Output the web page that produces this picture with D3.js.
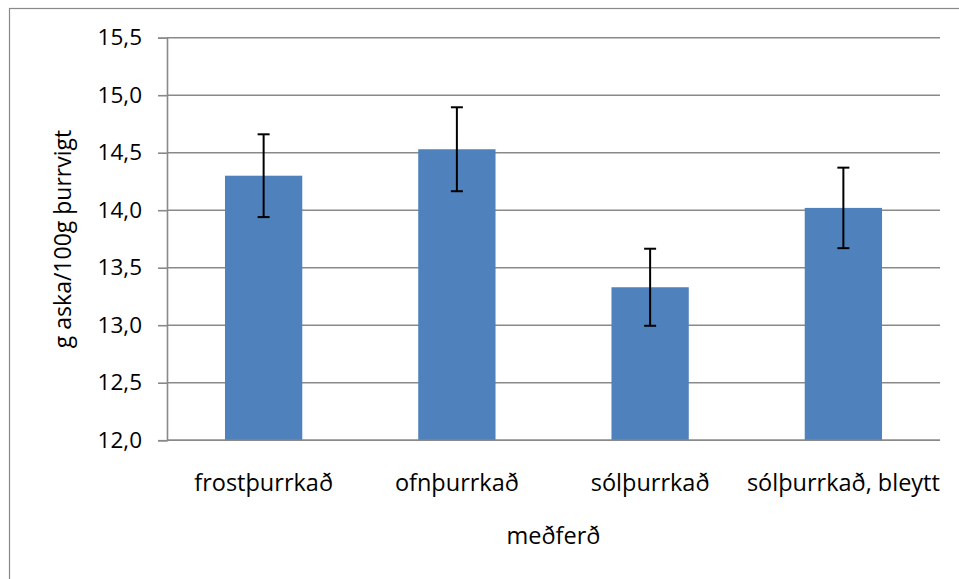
<!DOCTYPE html>
<html>
<head>
<meta charset="utf-8">
<script src="https://cdn.jsdelivr.net/npm/d3@7"></script>
<style>
  html, body { margin: 0; padding: 0; background: #fff; }
  svg { display: block; }
  text { font-family: "Open Sans", sans-serif; fill: #000; }
</style>
</head>
<body>
<svg id="chart" width="959" height="579"></svg>
<script>
const categories = ["frostþurrkað", "ofnþurrkað", "sólþurrkað", "sólþurrkað, bleytt"];
const values = [14.30, 14.53, 13.33, 14.02];
const errors = [0.36, 0.365, 0.335, 0.35];
const yTicks = [12.0, 12.5, 13.0, 13.5, 14.0, 14.5, 15.0, 15.5];
const yTitle = "g aska/100g þurrvigt";
const xTitle = "meðferð";

const svg = d3.select("#chart");
const plot = { left: 167, right: 940, top: 37.7, bottom: 440.2 };
const gray = "#898989";

// outer chart border
svg.append("rect")
  .attr("x", 9.5).attr("y", 8.5)
  .attr("width", 1000).attr("height", 1000)
  .attr("fill", "none").attr("stroke", gray).attr("stroke-width", 1.2);

const x = d3.scaleBand().domain(categories)
  .range([plot.left, plot.right]).paddingInner(0.6).paddingOuter(0.3);
const y = d3.scaleLinear().domain([12, 15.5]).range([plot.bottom, plot.top]);

// gridlines
svg.append("g").selectAll("line").data(yTicks).join("line")
  .attr("x1", plot.left).attr("x2", plot.right)
  .attr("y1", d => y(d)).attr("y2", d => y(d))
  .attr("stroke", gray).attr("stroke-width", 1.6);

// y axis
const yAxis = d3.axisLeft(y).tickValues(yTicks).tickSize(9).tickPadding(16)
  .tickFormat(d => d3.format(".1f")(d).replace(".", ","));
const ya = svg.append("g").attr("transform", `translate(${plot.left},0)`).call(yAxis);
ya.select(".domain").attr("stroke", gray).attr("stroke-width", 1.6);
ya.selectAll(".tick line").attr("stroke", gray).attr("stroke-width", 1.6);
ya.selectAll(".tick text").attr("font-size", 22.5).attr("font-family", "Open Sans").attr("fill", "#000");

// bars
svg.append("g").selectAll("rect").data(categories).join("rect")
  .attr("x", d => x(d)).attr("width", x.bandwidth())
  .attr("y", (d, i) => y(values[i]))
  .attr("height", (d, i) => y(12) - y(values[i]))
  .attr("fill", "#4F81BD");

// bottom axis line
svg.append("line")
  .attr("x1", plot.left).attr("x2", plot.right)
  .attr("y1", y(12)).attr("y2", y(12))
  .attr("stroke", gray).attr("stroke-width", 1.6);

// error bars
const eb = svg.append("g").attr("stroke", "#000").attr("stroke-width", 2);
categories.forEach((c, i) => {
  const cx = x(c) + x.bandwidth() / 2;
  const hi = y(values[i] + errors[i]), lo = y(values[i] - errors[i]);
  eb.append("line").attr("x1", cx).attr("x2", cx).attr("y1", hi).attr("y2", lo);
  eb.append("line").attr("x1", cx - 6).attr("x2", cx + 6).attr("y1", hi).attr("y2", hi);
  eb.append("line").attr("x1", cx - 6).attr("x2", cx + 6).attr("y1", lo).attr("y2", lo);
});

// category labels
svg.append("g").selectAll("text").data(categories).join("text")
  .attr("x", d => x(d) + x.bandwidth() / 2).attr("y", 491)
  .attr("text-anchor", "middle").attr("font-size", 23.5)
  .text(d => d);

// x title
svg.append("text")
  .attr("x", (plot.left + plot.right) / 2).attr("y", 544)
  .attr("text-anchor", "middle").attr("font-size", 23.5)
  .text(xTitle);

// y title
svg.append("text")
  .attr("transform", `translate(71, ${(plot.top + plot.bottom) / 2}) rotate(-90)`)
  .attr("text-anchor", "middle").attr("font-size", 23)
  .text(yTitle);
</script>
</body>
</html>
